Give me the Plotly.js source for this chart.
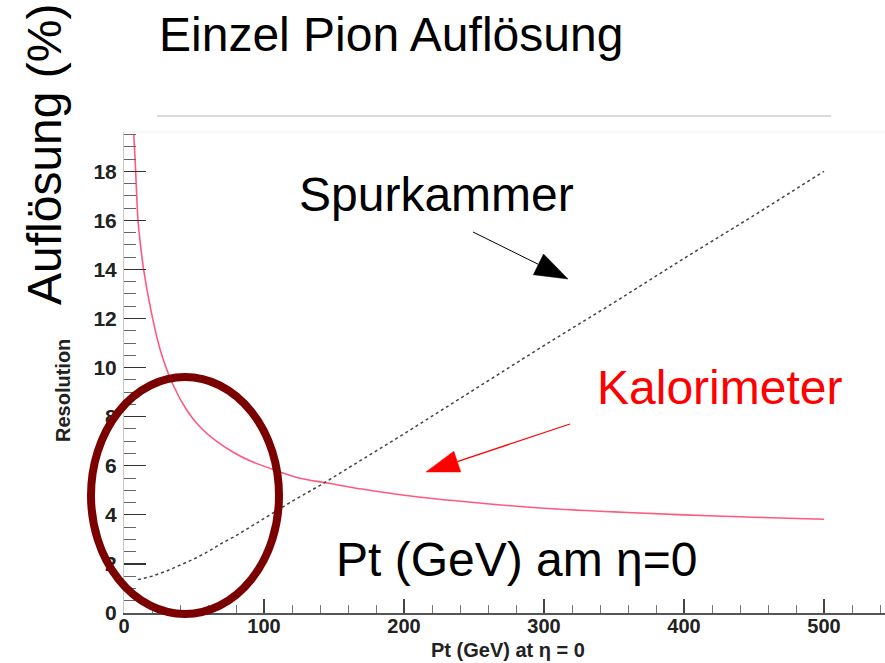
<!DOCTYPE html>
<html><head><meta charset="utf-8">
<script src="https://cdn.plot.ly/plotly-3.0.1.min.js"></script>
<style>html,body{margin:0;padding:0;background:#fff;}#chart{width:885px;height:663px;}</style>
</head><body><div id="chart"></div>
<script>
// Data
const trackerPt  = [10, 20, 30, 40, 50, 60, 70, 80, 90, 100, 120, 140, 160, 180, 200, 250, 300, 350, 400, 450, 500];
const trackerRes = [1.36, 1.5, 1.7, 1.95, 2.2, 2.5, 2.85, 3.15, 3.5, 3.85, 4.55, 5.2, 5.9, 6.6, 7.3, 9.1, 10.9, 12.65, 14.45, 16.2, 18.0];
const caloPt  = [7, 8, 9, 10, 11, 12, 14, 19, 26, 35, 45, 54, 66, 78, 90, 110, 125, 145, 170, 200, 250, 300, 350, 400, 450, 500];
const caloRes = [19.5, 18.4, 17.1, 16.0, 15.4, 14.9, 14.0, 12.4, 10.7, 9.3, 8.25, 7.6, 7.0, 6.55, 6.2, 5.78, 5.5, 5.3, 5.05, 4.8, 4.5, 4.27, 4.12, 4.0, 3.9, 3.82];

const titleText = 'Einzel Pion Auflösung';
const yBigTitle = 'Auflösung (%)';
const xAxisTitle = 'Pt (GeV) at η = 0';
const yAxisTitle = 'Resolution';
const labelTracker = 'Spurkammer';
const labelCalo = 'Kalorimeter';
const labelPt = 'Pt (GeV) am η=0';

// Layout geometry (pixels)
const W = 885, H = 663, L = 124, R = 0, T = 132, B = 50;
const pw = W - L - R, ph = H - T - B;
const px = x => (x - L) / pw;
const py = y => (H - B - y) / ph;

const slideFont = {family: 'Liberation Sans, Arial, sans-serif', size: 48};

function ann(text, x, y, opts) {
  return Object.assign({
    text: text, xref: 'paper', yref: 'paper', x: px(x), y: py(y),
    showarrow: false, xanchor: 'center', yanchor: 'middle',
    font: Object.assign({}, slideFont, {color: '#000'})
  }, opts || {});
}

function arrowShapes(tail, tip, headLen, headW, color, lw) {
  const dx = tip[0] - tail[0], dy = tip[1] - tail[1];
  const len = Math.hypot(dx, dy);
  const ux = dx / len, uy = dy / len;
  const bx = tip[0] - headLen * ux, by = tip[1] - headLen * uy;
  const nx = -uy, ny = ux;
  const c1 = [bx + headW / 2 * nx, by + headW / 2 * ny];
  const c2 = [bx - headW / 2 * nx, by - headW / 2 * ny];
  const P = p => px(p[0]).toFixed(5) + ',' + py(p[1]).toFixed(5);
  return [
    {type: 'line', xref: 'paper', yref: 'paper', x0: px(tail[0]), y0: py(tail[1]), x1: px(bx), y1: py(by),
     line: {color: color, width: lw}},
    {type: 'path', xref: 'paper', yref: 'paper', path: 'M' + P(tip) + ' L' + P(c1) + ' L' + P(c2) + ' Z',
     fillcolor: color, line: {color: color, width: 0.5}}
  ];
}

const traces = [
  {x: caloPt, y: caloRes, type: 'scatter', mode: 'lines', name: labelCalo,
   line: {color: 'rgba(255,20,70,0.7)', width: 1.6, shape: 'spline', smoothing: 1}, hoverinfo: 'skip'},
  {x: trackerPt, y: trackerRes, type: 'scatter', mode: 'lines', name: labelTracker,
   line: {color: '#444', width: 1.5, dash: 'dot'}, hoverinfo: 'skip'}
];

const tickFontX = {family: 'Liberation Sans, Arial, sans-serif', size: 20, weight: 'bold', color: '#222'};
const tickFontY = {family: 'Liberation Sans, Arial, sans-serif', size: 21, weight: 'bold', color: '#222'};

const layout = {
  width: W, height: H,
  margin: {l: L, r: R, t: T, b: B, pad: 0},
  paper_bgcolor: '#fff', plot_bgcolor: '#fff',
  showlegend: false,
  xaxis: {
    range: [0, pw / 1.4], showgrid: false, zeroline: false,
    showline: true, linecolor: '#555', linewidth: 1.5,
    ticks: 'inside', ticklen: 14, tickwidth: 1.2, tickcolor: '#444',
    dtick: 100, tick0: 0, tickfont: tickFontX, ticklabelstandoff: -6,
    minor: {dtick: 20, ticks: 'inside', ticklen: 8, tickcolor: '#777', tickwidth: 1}
  },
  yaxis: {
    range: [0, ph / 24.54], showgrid: false, zeroline: false,
    showline: true, linecolor: '#c8c8c8', linewidth: 1,
    ticks: 'inside', ticklen: 22, tickwidth: 1.2, tickcolor: '#333',
    dtick: 2, tick0: 0, tickfont: tickFontY, ticklabelstandoff: 2,
    minor: {dtick: 0.5, ticks: 'inside', ticklen: 12, tickcolor: '#666', tickwidth: 1}
  },
  annotations: [
    ann(titleText, 157, 34, {xanchor: 'left'}),
    ann(yBigTitle, 45, 155, {textangle: -90}),
    ann(labelTracker, 297, 195, {xanchor: 'left'}),
    ann(labelCalo, 595, 387, {xanchor: 'left', font: Object.assign({}, slideFont, {color: '#ff0000'})}),
    ann(labelPt, 334, 559, {xanchor: 'left'}),
    ann(xAxisTitle, 508, 650, {borderpad: 0, font: {family: 'Liberation Sans, Arial, sans-serif', size: 20, weight: 'bold', color: '#222'}}),
    ann(yAxisTitle, 63, 391, {textangle: -90, font: {family: 'Liberation Sans, Arial, sans-serif', size: 20, weight: 'bold', color: '#222'}})
  ],
  shapes: [
    {type: 'line', xref: 'paper', yref: 'paper', x0: 0, x1: 1, y0: 1, y1: 1, line: {color: '#eeeeee', width: 1}},
    {type: 'line', xref: 'paper', yref: 'paper', x0: px(157), x1: px(831), y0: py(116), y1: py(116), line: {color: '#dadada', width: 2}},
    ...arrowShapes([473, 232], [568, 279], 33, 23, '#000000', 1),
    ...arrowShapes([570, 424], [426, 472], 33, 22, '#ff0000', 1.2),
    {type: 'circle', xref: 'paper', yref: 'paper', x0: px(91), x1: px(279), y0: py(614), y1: py(377),
     line: {color: '#7b0000', width: 8}}
  ]
};

Plotly.newPlot('chart', traces, layout, {displayModeBar: false, staticPlot: true});
</script>
</body></html>
